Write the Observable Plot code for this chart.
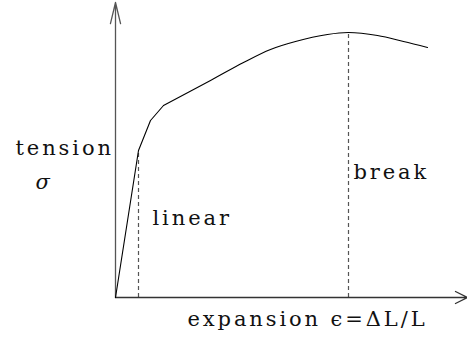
<!DOCTYPE html>
<html>
<head>
<meta charset="utf-8">
<script src="https://cdn.jsdelivr.net/npm/d3@7"></script>
<script src="https://cdn.jsdelivr.net/npm/@observablehq/plot@0.6"></script>
<style>
  html, body { margin: 0; padding: 0; background: #fff; }
</style>
</head>
<body>
<div id="chart"></div>
<script>
// Stress–strain sketch (arbitrary units)
// elastic (linear) region and yield knee
const kneeStrain = [0, 23, 35, 48];
const kneeStress = [0, 147, 177, 192];
// plastic hardening curve up to and past the break point
const curveStrain = [48, 95, 128, 155, 180, 212, 233, 262, 288, 312];
const curveStress = [192, 217, 235, 248, 256, 263, 265, 262, 256, 250];
// marked points
const linearLimit = {strain: 23, stress: 147};
const breakPoint = {strain: 233, stress: 265};
// axis extents
const axisMaxStrain = 352;
const axisMaxStress = 295;
// labels
const labelTension = "tension";
const labelSigma = "σ";
const labelLinear = "linear";
const labelBreak = "break";
const labelExpansion = "expansion ϵ=ΔL/L";

const knee = kneeStrain.map((x, i) => ({x, y: kneeStress[i]}));
const curve = curveStrain.map((x, i) => ({x, y: curveStress[i]}));

const chart = Plot.plot({
  width: 467,
  height: 339,
  marginTop: 0, marginRight: 0, marginBottom: 0, marginLeft: 0,
  style: {background: "#fff"},
  x: {domain: [0, axisMaxStrain], range: [115, 467], axis: null},
  y: {domain: [0, axisMaxStress], range: [297, 2], axis: null},
  marks: [
    // dashed guides
    Plot.ruleX([linearLimit], {x: "strain", y1: 0, y2: "stress", stroke: "#555", strokeWidth: 1.2, strokeDasharray: "4,3"}),
    Plot.ruleX([breakPoint], {x: "strain", y1: 0, y2: "stress", stroke: "#555", strokeWidth: 1.2, strokeDasharray: "4,3"}),
    // axes with open arrowheads
    Plot.arrow([{x1: 0, y1: 0, x2: 0, y2: axisMaxStress}], {x1: "x1", y1: "y1", x2: "x2", y2: "y2", stroke: "#555", strokeWidth: 1.3, headAngle: 27, headLength: 25}),
    Plot.arrow([{x1: 0, y1: 0, x2: axisMaxStrain, y2: 0}], {x1: "x1", y1: "y1", x2: "x2", y2: "y2", stroke: "#333", strokeWidth: 1.3, headAngle: 53, headLength: 15.5}),
    // curve
    Plot.line(knee, {x: "x", y: "y", stroke: "#000", strokeWidth: 1.1, curve: "linear"}),
    Plot.line(curve, {x: "x", y: "y", stroke: "#000", strokeWidth: 1.1, curve: "catmull-rom"}),
    // labels
    Plot.text([labelTension], {x: 0, y: 143, text: d => d, dx: -100, textAnchor: "start", lineAnchor: "bottom", fontSize: 21, fill: "#111"}),
    Plot.text([labelSigma], {x: 0, y: 109, text: d => d, dx: -80, textAnchor: "start", lineAnchor: "bottom", fontSize: 21, fontStyle: "italic", fill: "#111"}),
    Plot.text([labelLinear], {x: linearLimit.strain, y: 73, text: d => d, dx: 14, textAnchor: "start", lineAnchor: "bottom", fontSize: 21, fill: "#111"}),
    Plot.text([labelBreak], {x: breakPoint.strain, y: 119, text: d => d, dx: 5, textAnchor: "start", lineAnchor: "bottom", fontSize: 21, fill: "#111"}),
    Plot.text([labelExpansion], {x: 72, y: -28, text: d => d, textAnchor: "start", lineAnchor: "bottom", fontSize: 21, fill: "#111"})
  ]
});
d3.select(chart).selectAll("text")
  .style("font-family", "'DejaVu Serif', serif", "important")
  .style("letter-spacing", "2.9px", "important");
document.getElementById("chart").appendChild(chart);
</script>
</body>
</html>
